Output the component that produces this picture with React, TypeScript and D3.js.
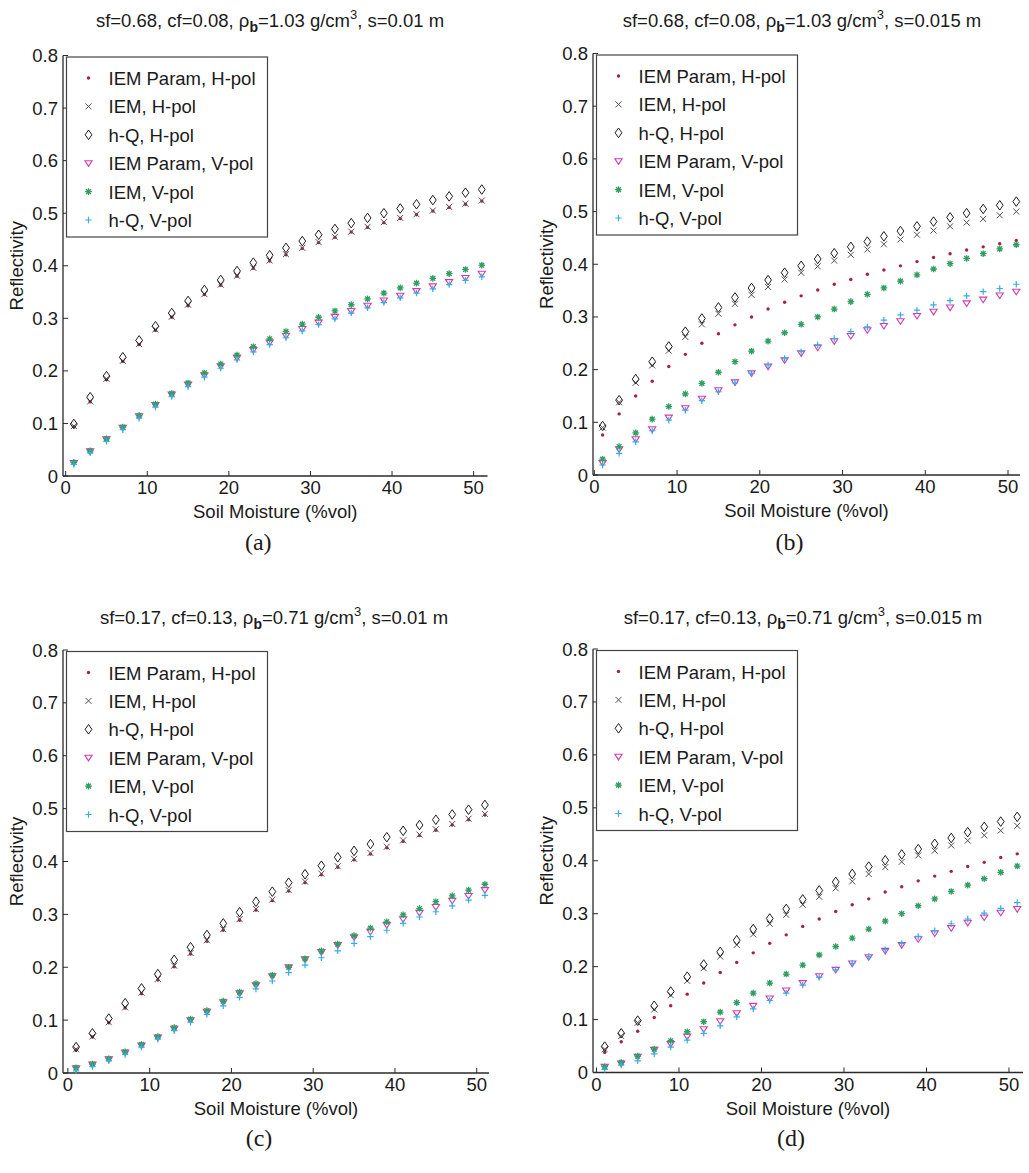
import React from 'react'
import * as d3 from 'd3'

const WIDTH = 1029
const HEIGHT = 1173
const FONT = '"Liberation Sans", Arial, Helvetica, sans-serif'

const moisture = [1, 3, 5, 7, 9, 11, 13, 15, 17, 19, 21, 23, 25, 27, 29, 31, 33, 35, 37, 39, 41, 43, 45, 47, 49, 51]
const xTicks = [0, 10, 20, 30, 40, 50]
const yTicks = [0, 0.1, 0.2, 0.3, 0.4, 0.5, 0.6, 0.7, 0.8]
const seriesNames = ['IEM Param, H-pol', 'IEM, H-pol', 'h-Q, H-pol', 'IEM Param, V-pol', 'IEM, V-pol', 'h-Q, V-pol']
const markerKinds = ['dot', 'cross', 'diamond', 'triangle', 'star', 'plus']
const markerColors = ['#a5223c', '#505050', '#1e1e1e', '#d03cae', '#2f9e60', '#34aee8']

// panel (a): sf=0.68, s=0.01
const aIemParamH = [0.094, 0.141, 0.183, 0.218, 0.250, 0.277, 0.302, 0.324, 0.345, 0.363, 0.380, 0.395, 0.409, 0.421, 0.433, 0.444, 0.454, 0.464, 0.473, 0.482, 0.490, 0.497, 0.504, 0.511, 0.517, 0.523]
const aIemH = [0.095, 0.142, 0.185, 0.219, 0.251, 0.279, 0.303, 0.326, 0.346, 0.364, 0.381, 0.396, 0.410, 0.422, 0.434, 0.445, 0.455, 0.465, 0.474, 0.483, 0.491, 0.498, 0.505, 0.512, 0.518, 0.524]
const aHqH = [0.099, 0.150, 0.190, 0.226, 0.258, 0.285, 0.310, 0.333, 0.354, 0.373, 0.390, 0.406, 0.420, 0.434, 0.447, 0.459, 0.470, 0.481, 0.491, 0.500, 0.509, 0.517, 0.525, 0.532, 0.539, 0.545]
const aIemParamV = [0.025, 0.047, 0.070, 0.092, 0.114, 0.135, 0.155, 0.174, 0.192, 0.209, 0.225, 0.240, 0.254, 0.267, 0.280, 0.292, 0.303, 0.314, 0.324, 0.334, 0.343, 0.352, 0.361, 0.369, 0.377, 0.385]
const aIemV = [0.026, 0.048, 0.071, 0.093, 0.115, 0.137, 0.157, 0.177, 0.196, 0.213, 0.230, 0.246, 0.261, 0.275, 0.289, 0.302, 0.314, 0.326, 0.337, 0.348, 0.358, 0.367, 0.376, 0.385, 0.393, 0.401]
const aHqV = [0.022, 0.044, 0.066, 0.088, 0.110, 0.131, 0.151, 0.170, 0.188, 0.205, 0.221, 0.236, 0.250, 0.263, 0.276, 0.288, 0.299, 0.310, 0.320, 0.330, 0.339, 0.348, 0.356, 0.364, 0.372, 0.379]

// panel (b): sf=0.68, s=0.015
const bIemParamH = [0.076, 0.116, 0.150, 0.178, 0.206, 0.229, 0.250, 0.268, 0.285, 0.300, 0.315, 0.328, 0.340, 0.351, 0.362, 0.371, 0.381, 0.389, 0.397, 0.405, 0.413, 0.420, 0.427, 0.433, 0.439, 0.445]
const bIemH = [0.090, 0.138, 0.175, 0.208, 0.236, 0.262, 0.286, 0.306, 0.325, 0.342, 0.357, 0.371, 0.384, 0.396, 0.407, 0.418, 0.428, 0.438, 0.447, 0.456, 0.464, 0.472, 0.479, 0.486, 0.493, 0.500]
const bHqH = [0.093, 0.142, 0.182, 0.215, 0.244, 0.272, 0.297, 0.318, 0.337, 0.355, 0.370, 0.384, 0.397, 0.410, 0.421, 0.433, 0.443, 0.453, 0.463, 0.472, 0.481, 0.489, 0.497, 0.505, 0.512, 0.519]
const bIemParamV = [0.023, 0.049, 0.068, 0.087, 0.109, 0.127, 0.145, 0.161, 0.176, 0.193, 0.206, 0.218, 0.231, 0.242, 0.254, 0.264, 0.275, 0.283, 0.292, 0.302, 0.310, 0.318, 0.326, 0.333, 0.341, 0.348]
const bIemV = [0.030, 0.054, 0.080, 0.106, 0.130, 0.154, 0.174, 0.195, 0.215, 0.235, 0.254, 0.270, 0.286, 0.300, 0.315, 0.329, 0.343, 0.355, 0.368, 0.380, 0.391, 0.401, 0.411, 0.420, 0.429, 0.437]
const bHqV = [0.019, 0.041, 0.063, 0.084, 0.104, 0.123, 0.141, 0.158, 0.175, 0.193, 0.209, 0.221, 0.234, 0.247, 0.259, 0.272, 0.281, 0.294, 0.304, 0.313, 0.323, 0.331, 0.340, 0.348, 0.354, 0.362]

// panel (c): sf=0.17, s=0.01
const cIemParamH = [0.044, 0.068, 0.095, 0.123, 0.150, 0.176, 0.201, 0.225, 0.249, 0.270, 0.289, 0.308, 0.326, 0.344, 0.360, 0.375, 0.389, 0.403, 0.414, 0.426, 0.438, 0.449, 0.459, 0.469, 0.479, 0.488]
const cIemH = [0.045, 0.069, 0.096, 0.124, 0.152, 0.178, 0.203, 0.227, 0.251, 0.272, 0.291, 0.310, 0.328, 0.346, 0.362, 0.377, 0.391, 0.405, 0.416, 0.428, 0.440, 0.451, 0.461, 0.471, 0.481, 0.490]
const cHqH = [0.049, 0.075, 0.103, 0.132, 0.160, 0.187, 0.214, 0.238, 0.261, 0.283, 0.304, 0.324, 0.343, 0.360, 0.376, 0.392, 0.408, 0.420, 0.433, 0.446, 0.458, 0.469, 0.479, 0.489, 0.498, 0.507]
const cIemParamV = [0.009, 0.016, 0.026, 0.039, 0.052, 0.067, 0.084, 0.100, 0.116, 0.134, 0.151, 0.166, 0.183, 0.200, 0.215, 0.229, 0.242, 0.257, 0.267, 0.280, 0.291, 0.303, 0.314, 0.326, 0.335, 0.346]
const cIemV = [0.010, 0.017, 0.027, 0.040, 0.054, 0.069, 0.086, 0.102, 0.118, 0.136, 0.153, 0.169, 0.185, 0.200, 0.216, 0.231, 0.244, 0.260, 0.274, 0.286, 0.299, 0.311, 0.324, 0.335, 0.346, 0.357]
const cHqV = [0.004, 0.012, 0.023, 0.035, 0.049, 0.064, 0.080, 0.096, 0.111, 0.127, 0.143, 0.159, 0.174, 0.190, 0.204, 0.218, 0.231, 0.245, 0.258, 0.270, 0.283, 0.295, 0.305, 0.316, 0.327, 0.336]

// panel (d): sf=0.17, s=0.015
const dIemParamH = [0.038, 0.058, 0.078, 0.104, 0.126, 0.148, 0.169, 0.189, 0.208, 0.226, 0.244, 0.260, 0.276, 0.290, 0.304, 0.317, 0.328, 0.341, 0.351, 0.362, 0.371, 0.380, 0.389, 0.397, 0.406, 0.413]
const dIemH = [0.044, 0.069, 0.094, 0.119, 0.146, 0.173, 0.197, 0.219, 0.241, 0.261, 0.281, 0.298, 0.317, 0.332, 0.348, 0.361, 0.375, 0.388, 0.398, 0.410, 0.419, 0.429, 0.438, 0.448, 0.457, 0.466]
const dHqH = [0.049, 0.074, 0.098, 0.126, 0.153, 0.181, 0.204, 0.228, 0.250, 0.271, 0.291, 0.309, 0.327, 0.344, 0.360, 0.375, 0.389, 0.401, 0.412, 0.422, 0.432, 0.443, 0.454, 0.464, 0.474, 0.483]
const dIemParamV = [0.011, 0.017, 0.030, 0.043, 0.054, 0.068, 0.082, 0.097, 0.112, 0.126, 0.140, 0.155, 0.169, 0.182, 0.194, 0.206, 0.218, 0.230, 0.241, 0.252, 0.263, 0.273, 0.283, 0.293, 0.302, 0.309]
const dIemV = [0.011, 0.019, 0.031, 0.044, 0.060, 0.077, 0.096, 0.114, 0.132, 0.150, 0.169, 0.186, 0.203, 0.222, 0.238, 0.254, 0.271, 0.286, 0.300, 0.315, 0.328, 0.342, 0.354, 0.366, 0.378, 0.390]
const dHqV = [0.006, 0.014, 0.022, 0.035, 0.048, 0.061, 0.074, 0.088, 0.105, 0.120, 0.136, 0.150, 0.165, 0.180, 0.194, 0.206, 0.219, 0.232, 0.244, 0.257, 0.268, 0.281, 0.290, 0.301, 0.310, 0.321]

const panels = [
  {
    caption: '(a)', sf: '0.68', cf: '0.08', rho: '1.03', s: '0.01',
    series: [aIemParamH, aIemH, aHqH, aIemParamV, aIemV, aHqV],
    left: 63, right: 487.5, bottom: 476, top: 55.5, xDomain: [-0.33, 51.7],
    titleX: 270, titleY: 27, capY: 550,
  },
  {
    caption: '(b)', sf: '0.68', cf: '0.08', rho: '1.03', s: '0.015',
    series: [bIemParamH, bIemH, bHqH, bIemParamV, bIemV, bHqV],
    left: 593, right: 1020, bottom: 475, top: 53.5, xDomain: [-0.16, 51.45],
    titleX: 802, titleY: 27, capY: 550,
  },
  {
    caption: '(c)', sf: '0.17', cf: '0.13', rho: '0.71', s: '0.01',
    series: [cIemParamH, cIemH, cHqH, cIemParamV, cIemV, cHqV],
    left: 63, right: 489, bottom: 1073, top: 650, xDomain: [-0.6, 51.5],
    titleX: 274, titleY: 624, capY: 1146,
  },
  {
    caption: '(d)', sf: '0.17', cf: '0.13', rho: '0.71', s: '0.015',
    series: [dIemParamH, dIemH, dHqH, dIemParamV, dIemV, dHqV],
    left: 593, right: 1023, bottom: 1072.5, top: 649, xDomain: [-0.42, 51.7],
    titleX: 803, titleY: 624, capY: 1146,
  },
]

function Marker({ kind, color, x, y }: { kind: string, color: string, x: number, y: number }) {
  const t = `translate(${x},${y})`
  if (kind === 'dot') return <circle cx={x} cy={y} r={1.7} fill={color} />
  if (kind === 'cross')
    return <path transform={t} d="M-3,-3L3,3M-3,3L3,-3" stroke={color} strokeWidth={1} fill="none" />
  if (kind === 'diamond')
    return <path transform={t} d="M0,-4.8L3.4,0L0,4.8L-3.4,0Z" stroke={color} strokeWidth={1} fill="none" />
  if (kind === 'triangle')
    return <path transform={t} d="M-3.6,-2.4L3.6,-2.4L0,3.2Z" stroke={color} strokeWidth={1.1} fill="none" />
  if (kind === 'star')
    return <path transform={t} d="M-3.3,0L3.3,0M0,-3.3L0,3.3M-2.4,-2.4L2.4,2.4M-2.4,2.4L2.4,-2.4" stroke={color} strokeWidth={1.3} fill="none" />
  return <path transform={t} d="M-3.2,0L3.2,0M0,-3.2L0,3.2" stroke={color} strokeWidth={1.2} fill="none" />
}

function Panel({ p }: { p: typeof panels[number] }) {
  const x = d3.scaleLinear().domain(p.xDomain).range([p.left, p.right])
  const y = d3.scaleLinear().domain([0, 0.8]).range([p.bottom, p.top])
  const cx = (p.left + p.right) / 2
  const cy = (p.top + p.bottom) / 2
  const legLeft = p.left + 3.5
  const legTop = p.top + 1.5

  return (
    <g fontFamily={FONT} fill="#1a1a1a">
      <text x={p.titleX} y={p.titleY} textAnchor="middle" fontSize={18.5}>
        <tspan>{`sf=${p.sf}, cf=${p.cf}, ρ`}</tspan>
        <tspan dy={5} fontSize={14} fontWeight="bold">b</tspan>
        <tspan dy={-5}>{`=${p.rho} g/cm`}</tspan>
        <tspan dy={-8} fontSize={13}>3</tspan>
        <tspan dy={8}>{`, s=${p.s} m`}</tspan>
      </text>

      {/* axes: left and bottom only, ticks pointing inward */}
      <line x1={p.left} x2={p.left} y1={p.top} y2={p.bottom} stroke="#2a2a2a" strokeWidth={1.3} />
      <line x1={p.left} x2={p.right} y1={p.bottom} y2={p.bottom} stroke="#2a2a2a" strokeWidth={1.3} />
      {yTicks.map(v => (
        <g key={'y' + v}>
          <line x1={p.left} x2={p.left + 5} y1={y(v)} y2={y(v)} stroke="#2a2a2a" strokeWidth={1} />
          <text x={p.left - 5} y={y(v) + 6.5} textAnchor="end" fontSize={18.5}>{d3.format('~g')(v)}</text>
        </g>
      ))}
      {xTicks.map(v => (
        <g key={'x' + v}>
          <line x1={x(v)} x2={x(v)} y1={p.bottom} y2={p.bottom - 5} stroke="#2a2a2a" strokeWidth={1} />
          <text x={x(v)} y={p.bottom + 18} textAnchor="middle" fontSize={18.5}>{v}</text>
        </g>
      ))}
      <text x={cx} y={p.bottom + 42} textAnchor="middle" fontSize={18.5}>Soil Moisture (%vol)</text>
      <text transform={`translate(${p.left - 40},${cy}) rotate(-90)`} textAnchor="middle" fontSize={18.5}>Reflectivity</text>

      {p.series.map((vals, si) => (
        <g key={si}>
          {vals.map((v, i) => (
            <Marker key={i} kind={markerKinds[si]} color={markerColors[si]} x={x(moisture[i])} y={y(v)} />
          ))}
        </g>
      ))}

      <rect x={legLeft} y={legTop} width={201} height={180} fill="white" stroke="#444" strokeWidth={1.2} />
      {seriesNames.map((name, i) => (
        <g key={name}>
          <Marker kind={markerKinds[i]} color={markerColors[i]} x={legLeft + 22} y={legTop + 21 + i * 28.4} />
          <text x={legLeft + 42} y={legTop + 28 + i * 28.4} fontSize={18.5}>{name}</text>
        </g>
      ))}

      <text x={cx - 17} y={p.capY} textAnchor="middle" fontSize={24} fontFamily='"Liberation Serif", "DejaVu Serif", serif'>{p.caption}</text>
    </g>
  )
}

export default function App() {
  return (
    <svg width={WIDTH} height={HEIGHT} style={{ position: 'absolute', left: 0, top: 0, background: 'white' }}>
      {panels.map(p => <Panel key={p.caption} p={p} />)}
    </svg>
  )
}
